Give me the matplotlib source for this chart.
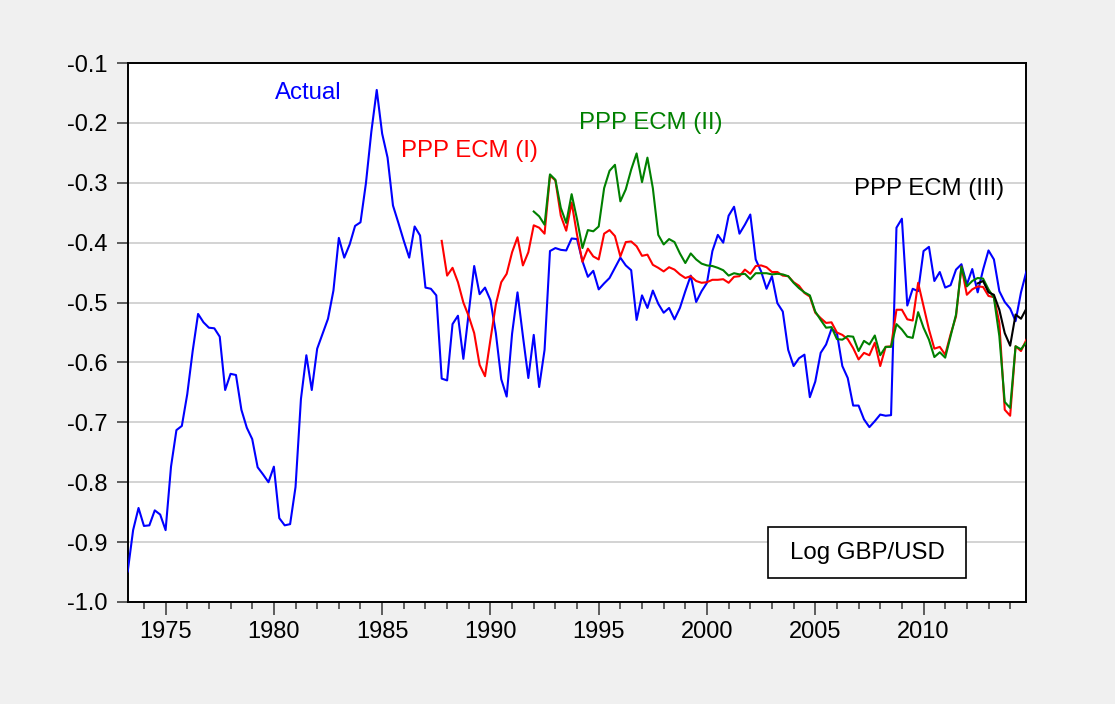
import matplotlib
matplotlib.use("Agg")
import matplotlib.pyplot as plt
from matplotlib.ticker import MultipleLocator, FixedLocator, FuncFormatter
import numpy as np

# ---- data (quarterly, first observation 1973Q2) ----
start_year = 1973.25
actual = [-0.949, -0.880, -0.843, -0.873, -0.872, -0.847, -0.854, -0.880, -0.774, -0.713,
          -0.706, -0.653, -0.581, -0.519, -0.533, -0.542, -0.543, -0.557, -0.646, -0.619,
          -0.621, -0.679, -0.709, -0.728, -0.775, -0.787, -0.800, -0.774, -0.860, -0.872,
          -0.870, -0.808, -0.661, -0.588, -0.646, -0.577, -0.552, -0.527, -0.480, -0.392,
          -0.425, -0.403, -0.372, -0.366, -0.301, -0.215, -0.145, -0.218, -0.258, -0.338,
          -0.367, -0.397, -0.425, -0.373, -0.388, -0.475, -0.477, -0.488, -0.627, -0.630,
          -0.536, -0.522, -0.594, -0.516, -0.439, -0.486, -0.475, -0.496, -0.551, -0.628,
          -0.657, -0.552, -0.483, -0.556, -0.626, -0.554, -0.641, -0.579, -0.414, -0.409,
          -0.412, -0.413, -0.393, -0.394, -0.431, -0.457, -0.447, -0.478, -0.468, -0.459,
          -0.442, -0.425, -0.438, -0.446, -0.529, -0.488, -0.509, -0.480, -0.502, -0.517,
          -0.509, -0.528, -0.509, -0.481, -0.455, -0.499, -0.481, -0.467, -0.414, -0.387,
          -0.400, -0.355, -0.340, -0.385, -0.370, -0.353, -0.428, -0.448, -0.477, -0.456,
          -0.501, -0.515, -0.579, -0.606, -0.593, -0.587, -0.658, -0.632, -0.584, -0.570,
          -0.544, -0.551, -0.606, -0.626, -0.672, -0.672, -0.695, -0.708, -0.698, -0.687,
          -0.689, -0.688, -0.375, -0.360, -0.505, -0.477, -0.481, -0.414, -0.407, -0.464,
          -0.449, -0.475, -0.471, -0.445, -0.436, -0.470, -0.444, -0.483, -0.445, -0.413,
          -0.428, -0.481, -0.499, -0.510, -0.531, -0.483, -0.448]

ecm1_start = 58   # index into quarterly sequence (1987Q4)
ecm1 = [-0.397, -0.455, -0.442, -0.466, -0.500, -0.523, -0.551, -0.604, -0.623, -0.562,
        -0.503, -0.466, -0.452, -0.416, -0.391, -0.438, -0.416, -0.371, -0.375, -0.385,
        -0.288, -0.296, -0.355, -0.380, -0.333, -0.387, -0.432, -0.410, -0.423, -0.428,
        -0.385, -0.379, -0.389, -0.423, -0.399, -0.398, -0.406, -0.422, -0.420, -0.437,
        -0.442, -0.448, -0.441, -0.445, -0.453, -0.459, -0.456, -0.464, -0.467, -0.466,
        -0.462, -0.462, -0.461, -0.467, -0.457, -0.456, -0.445, -0.452, -0.439, -0.438,
        -0.441, -0.449, -0.449, -0.455, -0.456, -0.466, -0.472, -0.484, -0.490, -0.517,
        -0.526, -0.534, -0.533, -0.550, -0.554, -0.561, -0.576, -0.595, -0.584, -0.588,
        -0.567, -0.606, -0.574, -0.573, -0.512, -0.512, -0.528, -0.530, -0.467, -0.506,
        -0.545, -0.577, -0.574, -0.587, -0.553, -0.523, -0.440, -0.487, -0.478, -0.473,
        -0.474, -0.489, -0.491, -0.534, -0.679, -0.689, -0.573, -0.581, -0.562]

ecm2_start = 75   # 1992Q1
ecm2 = [-0.348, -0.356, -0.370, -0.286, -0.295, -0.342, -0.367, -0.319, -0.361, -0.409,
        -0.379, -0.381, -0.373, -0.309, -0.280, -0.270, -0.331, -0.311, -0.278, -0.251,
        -0.299, -0.258, -0.309, -0.387, -0.403, -0.394, -0.399, -0.418, -0.434, -0.418,
        -0.428, -0.435, -0.438, -0.439, -0.442, -0.446, -0.455, -0.451, -0.453, -0.452,
        -0.461, -0.451, -0.451, -0.451, -0.453, -0.452, -0.453, -0.456, -0.467, -0.476,
        -0.483, -0.488, -0.515, -0.529, -0.542, -0.541, -0.561, -0.562, -0.556, -0.557,
        -0.581, -0.564, -0.570, -0.555, -0.588, -0.574, -0.574, -0.536, -0.545, -0.557,
        -0.559, -0.516, -0.542, -0.562, -0.591, -0.583, -0.592, -0.556, -0.520, -0.440,
        -0.473, -0.464, -0.459, -0.460, -0.478, -0.492, -0.556, -0.666, -0.676, -0.573,
        -0.578, -0.566]

ecm3_start = 157  # 2012Q3
ecm3 = [-0.468, -0.464, -0.483, -0.487, -0.512, -0.551, -0.572, -0.520, -0.527, -0.510]

year_ticks = [1975, 1980, 1985, 1990, 1995, 2000, 2005, 2010]
y_ticks = [-1.0, -0.9, -0.8, -0.7, -0.6, -0.5, -0.4, -0.3, -0.2, -0.1]


def qdates(start_idx, n):
    return start_year + 0.25 * (start_idx + np.arange(n))


W, H = 1115, 704
plt.rcParams['font.family'] = ['Liberation Sans', 'DejaVu Sans']
fig = plt.figure(figsize=(W / 100, H / 100), dpi=100, facecolor='#f0f0f0')
L, R, T, B = 127.7, 1026.4, 63, 602
ax = fig.add_axes([L / W, (H - B) / H, (R - L) / W, (B - T) / H])
ax.set_facecolor('white')

lw = 1.5
ax.plot(qdates(0, len(actual)), actual, color='#0000ff', lw=lw, zorder=3)
ax.plot(qdates(ecm1_start, len(ecm1)), ecm1, color='#ff0000', lw=lw, zorder=4)
ax.plot(qdates(ecm2_start, len(ecm2)), ecm2, color='#008000', lw=lw, zorder=5)
ax.plot(qdates(ecm3_start, len(ecm3)), ecm3, color='black', lw=lw, zorder=6)

ax.set_xlim(start_year, start_year + 0.25 * (len(actual) - 1))
ax.set_ylim(-1.0, -0.1)

ax.xaxis.set_major_locator(FixedLocator(year_ticks))
ax.xaxis.set_minor_locator(MultipleLocator(1))
ax.set_xticklabels([str(y) for y in year_ticks])
ax.yaxis.set_major_locator(FixedLocator(y_ticks))
ax.yaxis.set_major_formatter(FuncFormatter(lambda v, p: f"{v:.1f}".replace('\u2212', '-')))

ax.grid(axis='y', color='#d0d0d0', lw=1.3, zorder=1)
ax.set_axisbelow(True)

ax.tick_params(axis='x', which='major', direction='out', length=9, width=1.2,
               labelsize=17, pad=5, color='#444444', top=False)
ax.tick_params(axis='x', which='minor', direction='out', length=5, width=1.2,
               color='#444444', top=False)
ax.tick_params(axis='y', which='major', direction='out', length=7.7, width=1.2,
               labelsize=17, pad=7, color='#444444', right=False)
for s in ax.spines.values():
    s.set_linewidth(1.4)
    s.set_color('black')

def fx(px):
    return px / W

def fy(py):
    return 1 - py / H

fs = 17.3
fig.text(fx(308), fy(93), 'Actual', color='#0000ff', fontsize=fs, ha='center', va='center')
fig.text(fx(469), fy(151), 'PPP ECM (I)', color='#ff0000', fontsize=fs, ha='center', va='center')
fig.text(fx(651), fy(123), 'PPP ECM (II)', color='#008000', fontsize=fs, ha='center', va='center')
fig.text(fx(929), fy(189), 'PPP ECM (III)', color='black', fontsize=fs, ha='center', va='center')

# legend box
bx0, by0, bx1, by1 = 768.3, 527.3, 965.7, 578.3
box = plt.Rectangle((fx(bx0), fy(by1)), fx(bx1 - bx0), (by1 - by0) / H,
                    transform=fig.transFigure, facecolor='white', edgecolor='black',
                    lw=1.2, zorder=10)
fig.add_artist(box)
fig.text(fx((bx0 + bx1) / 2), fy((by0 + by1) / 2), 'Log GBP/USD', color='black',
         fontsize=fs, ha='center', va='center', zorder=11)

fig.savefig('out.png', dpi=100, facecolor=fig.get_facecolor())
